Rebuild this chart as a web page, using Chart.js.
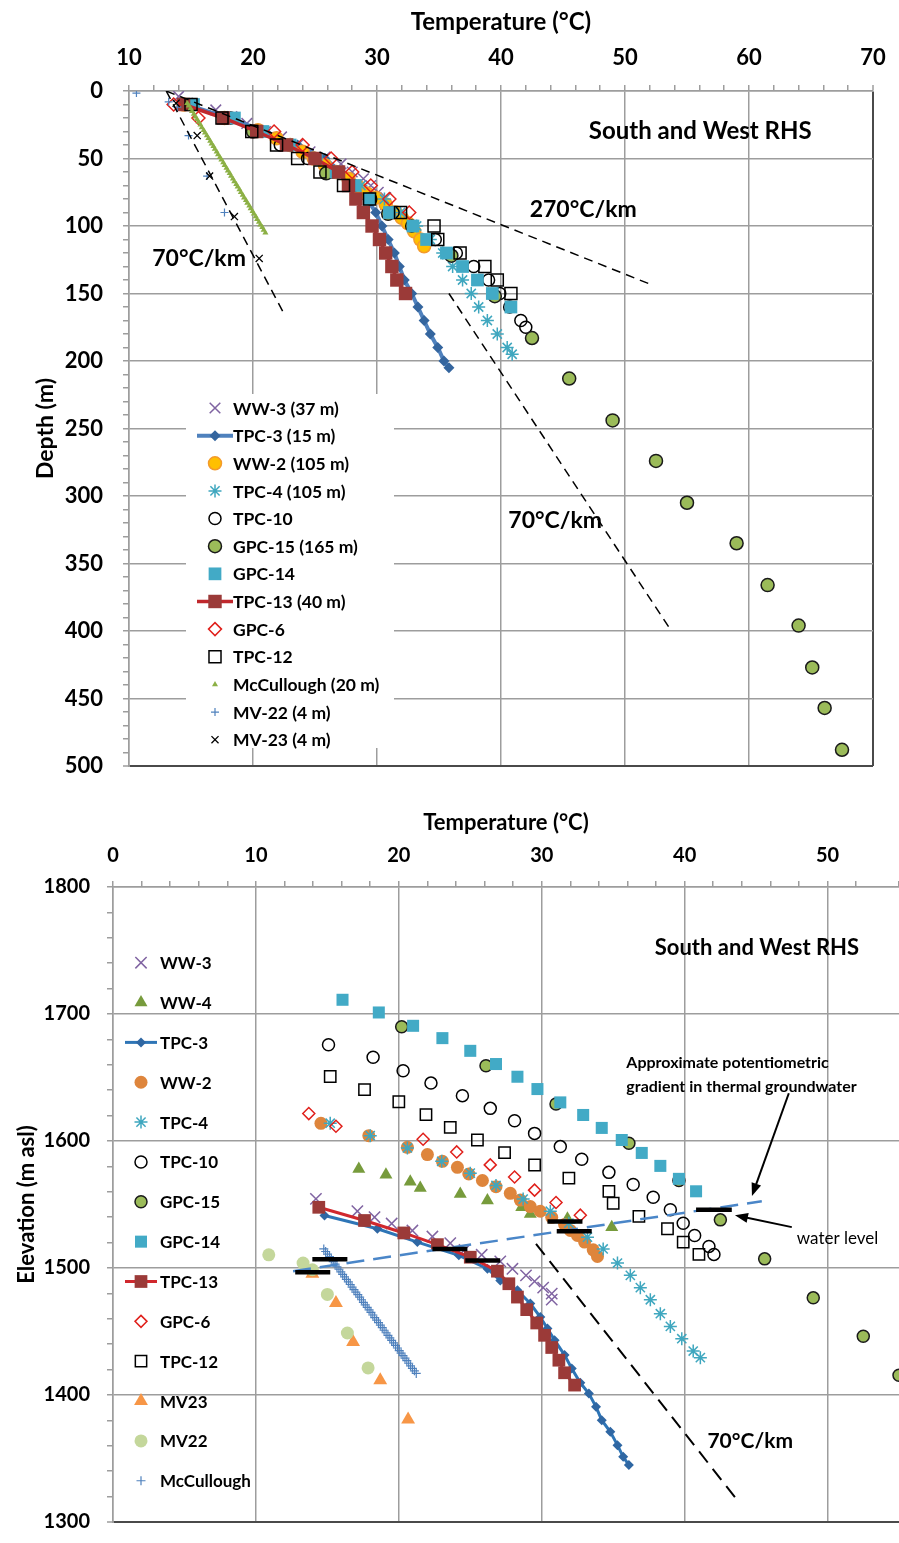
<!DOCTYPE html>
<html lang="en">
<head>
<meta charset="UTF-8">
<title>South and West RHS temperature profiles</title>
<script src="https://cdn.jsdelivr.net/npm/chart.js"></script>
<style>
  body { margin: 0; background: #fff; }
  #wrap { position: relative; width: 899px; height: 1543px; }
  canvas { position: absolute; left: 0; }
  #depthChart { top: 0; }
  #elevChart { top: 780px; }
</style>
</head>
<body>
<div id="wrap">
  <canvas id="depthChart" width="899" height="780"></canvas>
  <canvas id="elevChart" width="899" height="763"></canvas>
</div>
<script>
const FONT = 'Lato, "Open Sans", sans-serif';
const GRID = '#9d9d9d';
const EDGE = '#4a4a4a';

// ---------- upper panel: temperature (C) against depth (m) ----------
const ww3Temp = [14.0, 17.0, 18.3, 19.5, 21.0, 22.3, 23.6, 24.6, 25.8, 27.1, 28.0, 28.9, 29.5, 30.1, 30.7, 30.7];
const ww3Depth = [4, 14, 19, 24, 30, 34, 40, 45, 49, 54, 60, 65, 70, 75, 79, 84];
const tpc3Temp = [14.6, 18.0, 21.0, 23.6, 25.8, 27.1, 28.3, 29.2, 29.9, 30.4, 30.9, 31.4, 31.8, 32.2, 32.8, 33.3, 33.8, 34.3, 34.9, 35.4, 35.8];
const tpc3Depth = [10, 20, 30, 40, 50, 60, 70, 80, 90, 100, 110, 120, 130, 140, 150, 160, 170, 180, 190, 200, 205];
const ww2Temp = [14.4, 17.7, 20.4, 21.9, 23.0, 24.0, 24.9, 25.8, 26.7, 27.7, 28.5, 29.2, 29.9, 30.7, 31.5, 32.0, 32.5, 33.0, 33.5, 33.8];
const ww2Depth = [10, 20, 29, 35, 40, 45, 50, 55, 60, 65, 71, 76, 79, 84, 90, 94, 98, 104, 110, 115];
const tpc4Temp = [15.2, 18.0, 20.6, 23.0, 25.0, 26.8, 28.7, 30.6, 31.9, 33.2, 34.3, 35.3, 36.1, 36.9, 37.6, 38.2, 38.9, 39.7, 40.5, 40.9];
const tpc4Depth = [10, 20, 30, 40, 50, 60, 70, 80, 90, 100, 110, 120, 130, 140, 150, 160, 170, 180, 190, 195];
const tpc10Temp = [15.1, 18.2, 20.3, 22.2, 24.4, 26.4, 28.1, 29.5, 31.3, 32.8, 34.7, 36.4, 37.8, 39.0, 39.9, 40.7, 41.6, 42.0];
const tpc10Depth = [10, 20, 30, 40, 50, 60, 70, 80, 90, 100, 110, 120, 130, 140, 150, 160, 170, 175];
const gpc15Temp = [20.0, 25.9, 30.9, 36.0, 39.5, 42.5, 45.5, 49.0, 52.5, 55.0, 59.0, 61.5, 64.0, 65.1, 66.1, 67.5];
const gpc15Depth = [30, 61, 91, 122, 152, 183, 213, 244, 274, 305, 335, 366, 396, 427, 457, 488];
const gpc14Temp = [15.2, 18.5, 20.8, 23.0, 25.1, 26.7, 28.2, 29.4, 31.0, 32.9, 34.0, 35.6, 36.9, 38.1, 39.3, 40.8];
const gpc14Depth = [10, 20, 30, 40, 50, 60, 70, 80, 90, 100, 110, 120, 130, 140, 150, 160];
const tpc13Temp = [14.4, 17.6, 20.3, 22.7, 25.0, 26.9, 27.7, 28.3, 28.9, 29.6, 30.2, 30.7, 31.2, 31.6, 32.3];
const tpc13Depth = [10, 20, 30, 40, 50, 60, 70, 80, 90, 100, 110, 120, 130, 140, 150];
const gpc6Temp = [13.6, 15.6, 21.7, 24.0, 26.3, 28.0, 29.5, 31.0, 32.6];
const gpc6Depth = [10, 20, 30, 40, 50, 60, 70, 80, 90];
const tpc12Temp = [15.0, 17.5, 19.9, 21.9, 23.6, 25.4, 27.3, 29.4, 31.9, 34.6, 34.9, 36.7, 38.7, 39.7, 40.8];
const tpc12Depth = [10, 20, 30, 40, 50, 60, 70, 80, 90, 100, 110, 120, 130, 140, 150];
const mccTemp = [14.70, 14.82, 14.97, 15.08, 15.23, 15.35, 15.49, 15.61, 15.76, 15.87, 16.02, 16.13, 16.28, 16.40, 16.55, 16.66, 16.81,
  16.92, 17.07, 17.18, 17.33, 17.45, 17.60, 17.71, 17.86, 17.97, 18.12, 18.23, 18.38, 18.49, 18.65, 18.76, 18.91, 19.02, 19.17,
  19.28, 19.43, 19.54, 19.70, 19.81, 19.96, 20.07, 20.22, 20.33, 20.48, 20.59, 20.75, 20.86, 21.00];
const mccDepth = [9, 11, 13, 15, 17, 19, 21, 23, 25, 27, 29, 31, 33, 35, 37, 39, 41, 43, 45, 47, 49, 51, 53, 55, 57, 59, 61, 63, 65,
  67, 69, 71, 73, 75, 77, 79, 81, 83, 85, 87, 89, 91, 93, 95, 97, 99, 101, 103, 105];
const mv22Temp = [10.6, 13.2, 13.9, 14.8, 16.3, 17.7];
const mv22Depth = [1.5, 8, 12, 33, 63, 90];
const mv23Temp = [13.8, 15.5, 16.5, 18.5, 20.5];
const mv23Depth = [9, 33, 63, 93, 124];
// gradient guide lines
const g270Temp = [13, 52], g270Depth = [0, 143];
const g70aTemp = [13, 22.5], g70aDepth = [0, 165];
const g70bTemp = [35.8, 53.6], g70bDepth = [150, 398];

// ---------- lower panel: temperature (C) against elevation (m asl) ----------
const ww3TempB = [14.2, 17.1, 18.3, 19.5, 20.95, 22.35, 23.6, 24.6, 25.8, 27.1, 27.95, 28.9, 29.5, 30.1, 30.7, 30.7];
const ww3Elev = [1554.4, 1544.7, 1540, 1535, 1529.5, 1524.8, 1519.5, 1514.3, 1510.4, 1505.2, 1499.4, 1494.2, 1489.5, 1484.5, 1479.8, 1475.1];
const ww4TempB = [17.2, 19.1, 20.8, 21.5, 24.3, 26.2, 28.6, 29.2, 31.8, 34.9];
const ww4Elev = [1578, 1573.5, 1568, 1563, 1558.3, 1553.1, 1547.8, 1542.6, 1538.7, 1532.1];
const tpc3TempB = [14.8, 18.5, 21.3, 24.2, 26.2, 27.1, 28.3, 29.2, 29.9, 30.4, 30.9, 31.6, 32.1, 32.7, 33.3, 33.8, 34.2, 34.8, 35.3, 35.7, 36.1];
const tpc3Elev = [1541.3, 1530.9, 1520.4, 1510, 1499.4, 1490.2, 1482.4, 1472, 1461.4, 1452.4, 1443.2, 1431.4, 1420.9, 1409.6, 1401.2,
  1390.7, 1380.2, 1371, 1360.5, 1351.3, 1344.8];
const ww2TempB = [14.55, 17.9, 20.6, 22.0, 23.05, 24.1, 24.9, 25.85, 26.8, 27.8, 28.5, 29.2, 29.9, 30.7, 31.6, 32.0, 32.5, 33.0, 33.6, 33.9];
const ww2Elev = [1613.9, 1604.2, 1595, 1589.3, 1584, 1579.3, 1574, 1568.9, 1564, 1558.8, 1553.5, 1548.4, 1544.7, 1539.9, 1534.2,
  1529.6, 1525.6, 1520.4, 1514.3, 1509.1];
const tpc4TempB = [15.2, 18.0, 20.6, 23.0, 25.0, 26.8, 28.7, 30.6, 31.9, 33.2, 34.3, 35.3, 36.2, 36.9, 37.6, 38.3, 39.0, 39.8, 40.6, 41.1];
const tpc4Elev = [1614, 1604.2, 1594.5, 1584, 1574.7, 1565, 1554.3, 1544.7, 1535.3, 1524.3, 1515, 1503.9, 1494.2, 1484.5, 1475,
  1464, 1454, 1444.3, 1434.6, 1429.4];
const tpc10TempB = [15.08, 18.2, 20.3, 22.25, 24.45, 26.4, 28.1, 29.5, 31.3, 32.8, 34.7, 36.4, 37.8, 39.0, 39.9, 40.7, 41.7, 42.05];
const tpc10Elev = [1675.8, 1665.9, 1655.3, 1645.6, 1635.7, 1625.7, 1616, 1606, 1595.6, 1585.6, 1575.3, 1565.7, 1555.7, 1545.8,
  1535.3, 1525.6, 1517, 1510.7];
const gpc15TempB = [20.2, 26.1, 31.0, 36.1, 39.6, 42.5, 45.6, 49.0, 52.5, 55.0];
const gpc15Elev = [1690, 1659.3, 1629.2, 1598.2, 1568.9, 1537.9, 1507.2, 1476.5, 1446.2, 1415.6];
const gpc14TempB = [16.06, 18.6, 21.0, 23.05, 25.0, 26.8, 28.3, 29.7, 31.3, 32.9, 34.2, 35.6, 37.0, 38.3, 39.6, 40.8];
const gpc14Elev = [1711.2, 1701.2, 1690.7, 1681, 1671, 1660.6, 1650.6, 1640.9, 1630.4, 1620.5, 1610.3, 1600.8, 1590.6, 1580.4,
  1570.2, 1560.4];
const tpc13TempB = [14.4, 17.6, 20.35, 22.7, 25.0, 26.9, 27.7, 28.3, 28.95, 29.65, 30.2, 30.7, 31.2, 31.6, 32.3];
const tpc13Elev = [1547.8, 1537.4, 1527.6, 1518.4, 1508.5, 1497.5, 1487.6, 1477.1, 1467.2, 1456.7, 1447, 1437.4, 1427.4, 1417.5, 1407.8];
const gpc6TempB = [13.7, 15.6, 21.7, 24.05, 26.4, 28.1, 29.5, 31.0, 32.7];
const gpc6Elev = [1621.6, 1611.6, 1601.4, 1591.4, 1581.2, 1571.7, 1561.3, 1551.6, 1541.6];
const tpc12TempB = [15.2, 17.6, 20.0, 21.9, 23.6, 25.5, 27.4, 29.5, 31.9, 34.7, 35.0, 36.8, 38.8, 39.9, 41.0];
const tpc12Elev = [1650.8, 1640.4, 1630.9, 1620.7, 1610.8, 1600.8, 1590.9, 1581.1, 1570.7, 1560.4, 1551, 1540.6, 1530.9, 1520.4, 1510.7];
const mv23TempB = [13.95, 15.6, 16.8, 18.7, 20.65];
const mv23Elev = [1495.5, 1472.4, 1441.8, 1411.6, 1380.7];
const mv22TempB = [10.9, 13.3, 13.95, 15.0, 16.4, 17.85];
const mv22Elev = [1510.4, 1503.9, 1498.6, 1479.2, 1448.8, 1421.3];
const mccTempB = [14.75, 14.88, 15.01, 15.15, 15.28, 15.41, 15.54, 15.67, 15.81, 15.94, 16.07, 16.20, 16.33, 16.47, 16.60, 16.73,
  16.86, 16.99, 17.13, 17.26, 17.39, 17.52, 17.65, 17.79, 17.92, 18.05, 18.18, 18.31, 18.45, 18.58, 18.71, 18.84, 18.97, 19.11,
  19.24, 19.37, 19.50, 19.63, 19.77, 19.90, 20.03, 20.16, 20.29, 20.43, 20.56, 20.69, 20.82, 20.95, 21.09, 21.22];
const mccElev = [1515, 1513, 1511, 1509, 1507, 1505, 1503, 1501, 1499, 1497, 1495, 1493, 1491, 1489, 1487, 1485, 1483, 1481, 1479,
  1477, 1475, 1473, 1471, 1469, 1467, 1465, 1463, 1461, 1459, 1457, 1455, 1453, 1451, 1449, 1447, 1445, 1443, 1441, 1439, 1437,
  1435, 1433, 1431, 1429, 1427, 1425, 1423, 1421, 1419, 1417];
// potentiometric gradient, 70 C/km guide, water levels
const potTemp = [12.6, 45.4], potElev = [1497.5, 1552.6];
const g70Temp = [29.6, 43.7], g70Elev = [1519, 1317];
const wlFrom = [12.75, 13.95, 22.35, 24.65, 30.4, 31.05, 40.8];
const wlTo = [15.2, 16.4, 24.8, 27.1, 32.85, 33.5, 43.3];
const wlElev = [1496.7, 1506.9, 1515, 1505.9, 1536.6, 1529, 1545.8];

function pts(xs, ys) {
  return xs.map((x, i) => ({ x: x, y: ys[i] }));
}

function markers(label, xs, ys, look) {
  return Object.assign({
    label: label,
    data: pts(xs, ys),
    showLine: false,
    pointStyle: 'circle',
    pointRadius: 6,
    pointBorderWidth: 0,
    pointBackgroundColor: 'rgba(0,0,0,0)',
    pointBorderColor: '#000',
    borderColor: '#000',
    borderWidth: 0
  }, look);
}

function guide(xs, ys, color, width, dash) {
  return {
    label: '',
    data: pts(xs, ys),
    showLine: true,
    pointRadius: 0,
    borderColor: color,
    borderWidth: width,
    borderDash: dash || []
  };
}

// later series sit on top, like the spreadsheet
function stack(sets) {
  sets.forEach((d, i) => { d.order = sets.length - i; });
  return sets;
}

function insideLegend(cfg) {
  return {
    id: 'insideLegend',
    afterDatasetsDraw(chart) {
      const ctx = chart.ctx;
      ctx.save();
      if (cfg.box) {
        ctx.fillStyle = '#fff';
        ctx.fillRect(cfg.box[0], cfg.box[1], cfg.box[2], cfg.box[3]);
      }
      ctx.font = 'bold ' + cfg.size + 'px ' + FONT;
      ctx.textBaseline = 'middle';
      ctx.textAlign = 'left';
      for (let i = 0; i < cfg.count; i++) {
        const ds = chart.data.datasets[i];
        const y = cfg.y + i * cfg.gap;
        ctx.setLineDash([]);
        if (ds.showLine) {
          ctx.strokeStyle = ds.borderColor;
          ctx.lineWidth = ds.borderWidth;
          ctx.beginPath();
          ctx.moveTo(cfg.x - cfg.half, y);
          ctx.lineTo(cfg.x + cfg.half, y);
          ctx.stroke();
        }
        ctx.fillStyle = ds.pointBackgroundColor;
        ctx.strokeStyle = ds.pointBorderColor;
        ctx.lineWidth = ds.pointBorderWidth;
        Chart.helpers.drawPoint(ctx, {
          pointStyle: ds.pointStyle,
          radius: ds.pointRadius,
          borderWidth: ds.pointBorderWidth,
          rotation: 0
        }, cfg.x, y);
        ctx.fillStyle = '#000';
        ctx.fillText(ds.label, cfg.textX, y + 1);
      }
      ctx.restore();
    }
  };
}

function notes(cfg) {
  return {
    id: 'notes',
    afterDatasetsDraw(chart) {
      const ctx = chart.ctx;
      const sx = chart.scales.x, sy = chart.scales.y;
      ctx.save();
      ctx.fillStyle = '#000';
      ctx.textBaseline = 'middle';
      cfg.texts.forEach(t => {
        ctx.font = t.font;
        ctx.textAlign = t.align || 'center';
        ctx.fillText(t.text, sx.getPixelForValue(t.x), sy.getPixelForValue(t.y));
      });
      (cfg.arrows || []).forEach(a => {
        const x1 = sx.getPixelForValue(a.x1), y1 = sy.getPixelForValue(a.y1);
        const x2 = sx.getPixelForValue(a.x2), y2 = sy.getPixelForValue(a.y2);
        const ang = Math.atan2(y2 - y1, x2 - x1);
        ctx.strokeStyle = '#000';
        ctx.lineWidth = 2;
        ctx.beginPath();
        ctx.moveTo(x1, y1);
        ctx.lineTo(x2 - 10 * Math.cos(ang), y2 - 10 * Math.sin(ang));
        ctx.stroke();
        ctx.beginPath();
        ctx.moveTo(x2, y2);
        ctx.lineTo(x2 - 13 * Math.cos(ang) + 5 * Math.sin(ang), y2 - 13 * Math.sin(ang) - 5 * Math.cos(ang));
        ctx.lineTo(x2 - 13 * Math.cos(ang) - 5 * Math.sin(ang), y2 - 13 * Math.sin(ang) + 5 * Math.cos(ang));
        ctx.closePath();
        ctx.fill();
      });
      ctx.restore();
    }
  };
}

function axis(o) {
  const major = o.major;
  return {
    type: 'linear',
    position: o.position,
    reverse: !!o.reverse,
    min: o.min,
    max: o.max,
    afterFit: s => {
      if (o.position === 'top') s.height = o.size; else s.width = o.size;
      // keep the plot area where the layout puts it
      s.paddingLeft = s.paddingRight = s.paddingTop = s.paddingBottom = 0;
    },
    ticks: {
      stepSize: o.step,
      autoSkip: false,
      maxRotation: 0,
      padding: o.labelPad,
      color: '#000',
      font: { family: FONT, size: o.font, weight: 'bold' },
      callback: v => (Math.round(v) % major === 0 ? v : '')
    },
    grid: {
      color: c => {
        const v = c.tick ? c.tick.value : NaN;
        if (v === o.edge) return EDGE;
        return Math.round(v) % major === 0 ? GRID : 'rgba(0,0,0,0)';
      },
      lineWidth: c => (c.tick && c.tick.value === o.edge ? 2 : 1.5),
      tickColor: GRID,
      tickWidth: 1.5,
      tickLength: 6
    },
    border: { display: true, color: GRID, width: 1.5 },
    title: {
      display: true,
      text: o.title,
      color: '#000',
      font: { family: FONT, size: o.titleFont, weight: 'bold' },
      padding: { top: o.titlePad, bottom: 0 }
    }
  };
}

// ---------- upper chart ----------
const depthSets = stack([
  markers('WW-3 (37 m)', ww3Temp, ww3Depth, { pointStyle: 'crossRot', pointRadius: 7.5, pointBorderWidth: 1.5, pointBorderColor: '#7f63a1' }),
  markers('TPC-3 (15 m)', tpc3Temp, tpc3Depth, { showLine: true, borderColor: '#4f81bd', borderWidth: 4, pointStyle: 'rectRot', pointRadius: 5.5, pointBackgroundColor: '#34659e', pointBorderColor: '#34659e' }),
  markers('WW-2 (105 m)', ww2Temp, ww2Depth, { pointRadius: 6.5, pointBackgroundColor: '#ffc000', pointBorderColor: '#f39a2c', pointBorderWidth: 1.5 }),
  markers('TPC-4 (105 m)', tpc4Temp, tpc4Depth, { pointStyle: 'star', pointRadius: 6.5, pointBorderWidth: 1.5, pointBorderColor: '#3fa7bf' }),
  markers('TPC-10', tpc10Temp, tpc10Depth, { pointRadius: 6, pointBorderWidth: 1.5, pointBorderColor: '#000' }),
  markers('GPC-15 (165 m)', gpc15Temp, gpc15Depth, { pointRadius: 6.5, pointBackgroundColor: '#9bbb59', pointBorderColor: '#1a1a1a', pointBorderWidth: 1.5 }),
  markers('GPC-14', gpc14Temp, gpc14Depth, { pointStyle: 'rect', pointRadius: 9, pointBackgroundColor: '#42aac6', pointBorderColor: '#42aac6' }),
  markers('TPC-13 (40 m)', tpc13Temp, tpc13Depth, { showLine: true, borderColor: '#c0282d', borderWidth: 3.5, pointStyle: 'rect', pointRadius: 9.5, pointBackgroundColor: '#9b3a38', pointBorderColor: '#9b3a38' }),
  markers('GPC-6', gpc6Temp, gpc6Depth, { pointStyle: 'rectRot', pointRadius: 6.5, pointBorderWidth: 1.5, pointBorderColor: '#e0201b' }),
  markers('TPC-12', tpc12Temp, tpc12Depth, { pointStyle: 'rect', pointRadius: 8.5, pointBorderWidth: 1.5, pointBorderColor: '#000' }),
  markers('McCullough (20 m)', mccTemp, mccDepth, { pointStyle: 'triangle', pointRadius: 3.5, pointBackgroundColor: '#8cb045', pointBorderColor: '#8cb045' }),
  markers('MV-22 (4 m)', mv22Temp, mv22Depth, { pointStyle: 'cross', pointRadius: 4, pointBorderWidth: 1.2, pointBorderColor: '#4f81bd' }),
  markers('MV-23 (4 m)', mv23Temp, mv23Depth, { pointStyle: 'crossRot', pointRadius: 5, pointBorderWidth: 1.3, pointBorderColor: '#000' }),
  guide(g270Temp, g270Depth, '#000', 1.5, [9, 6]),
  guide(g70aTemp, g70aDepth, '#000', 1.5, [9, 6]),
  guide(g70bTemp, g70bDepth, '#000', 1.5, [9, 6])
]);

new Chart(document.getElementById('depthChart'), {
  type: 'scatter',
  data: { datasets: depthSets },
  options: {
    responsive: false,
    animation: false,
    events: [],
    layout: { autoPadding: false, padding: { left: 0, top: 0, right: 26, bottom: 14 } },
    plugins: { legend: { display: false }, tooltip: { enabled: false } },
    scales: {
      x: axis({ position: 'top', min: 10, max: 70, step: 2, major: 10, edge: 70, size: 91, labelPad: 14, font: 22,
        title: 'Temperature (°C)', titleFont: 24, titlePad: 8 }),
      y: axis({ position: 'left', reverse: true, min: 0, max: 500, step: 10, major: 50, edge: 500, size: 129, labelPad: 20, font: 22,
        title: 'Depth (m)', titleFont: 23, titlePad: 32 })
    }
  },
  plugins: [
    insideLegend({ count: 13, x: 215, half: 18, textX: 233, y: 408, gap: 27.64, size: 17.5, box: [186, 394, 208, 354] }),
    notes({
      texts: [
        { text: 'South and West RHS', x: 56.07, y: 29.6, font: 'bold 24px ' + FONT },
        { text: '270°C/km', x: 46.63, y: 88.2, font: 'bold 23px ' + FONT },
        { text: '70°C/km', x: 15.65, y: 124.5, font: 'bold 23px ' + FONT },
        { text: '70°C/km', x: 44.37, y: 318, font: 'bold 23px ' + FONT }
      ]
    })
  ]
});

// ---------- lower chart ----------
const elevSets = stack([
  markers('WW-3', ww3TempB, ww3Elev, { pointStyle: 'crossRot', pointRadius: 8, pointBorderWidth: 1.5, pointBorderColor: '#8064a2' }),
  markers('WW-4', ww4TempB, ww4Elev, { pointStyle: 'triangle', pointRadius: 7.5, pointBackgroundColor: '#779b3c', pointBorderColor: '#779b3c' }),
  markers('TPC-3', tpc3TempB, tpc3Elev, { showLine: true, borderColor: '#2e75b6', borderWidth: 3, pointStyle: 'rectRot', pointRadius: 5, pointBackgroundColor: '#2f67a3', pointBorderColor: '#2f67a3' }),
  markers('WW-2', ww2TempB, ww2Elev, { pointRadius: 6.5, pointBackgroundColor: '#de853c', pointBorderColor: '#de853c' }),
  markers('TPC-4', tpc4TempB, tpc4Elev, { pointStyle: 'star', pointRadius: 6.5, pointBorderWidth: 1.5, pointBorderColor: '#3fa7bf' }),
  markers('TPC-10', tpc10TempB, tpc10Elev, { pointRadius: 6, pointBorderWidth: 1.5, pointBorderColor: '#000' }),
  markers('GPC-15', gpc15TempB, gpc15Elev, { pointRadius: 6, pointBackgroundColor: '#9bbb59', pointBorderColor: '#1a1a1a', pointBorderWidth: 1.5 }),
  markers('GPC-14', gpc14TempB, gpc14Elev, { pointStyle: 'rect', pointRadius: 8.5, pointBackgroundColor: '#42aac6', pointBorderColor: '#42aac6' }),
  markers('TPC-13', tpc13TempB, tpc13Elev, { showLine: true, borderColor: '#d0282d', borderWidth: 3, pointStyle: 'rect', pointRadius: 9, pointBackgroundColor: '#9b3a38', pointBorderColor: '#9b3a38' }),
  markers('GPC-6', gpc6TempB, gpc6Elev, { pointStyle: 'rectRot', pointRadius: 6, pointBorderWidth: 1.5, pointBorderColor: '#e0201b' }),
  markers('TPC-12', tpc12TempB, tpc12Elev, { pointStyle: 'rect', pointRadius: 8, pointBorderWidth: 1.5, pointBorderColor: '#000' }),
  markers('MV23', mv23TempB, mv23Elev, { pointStyle: 'triangle', pointRadius: 8, pointBackgroundColor: '#f79646', pointBorderColor: '#f79646' }),
  markers('MV22', mv22TempB, mv22Elev, { pointRadius: 6.5, pointBackgroundColor: '#c4d79b', pointBorderColor: '#c4d79b' }),
  markers('McCullough', mccTempB, mccElev, { pointStyle: 'cross', pointRadius: 4.5, pointBorderWidth: 1.2, pointBorderColor: '#4f81bd' }),
  guide(potTemp, potElev, '#4a86c8', 2.5, [18, 9]),
  guide(g70Temp, g70Elev, '#000', 2, [14, 8])
].concat(wlElev.map((e, i) => guide([wlFrom[i], wlTo[i]], [e, e], '#000', 4.5))));

new Chart(document.getElementById('elevChart'), {
  type: 'scatter',
  data: { datasets: elevSets },
  options: {
    responsive: false,
    animation: false,
    events: [],
    layout: { autoPadding: false, padding: { left: 0, top: 0, right: 0, bottom: 21 } },
    plugins: { legend: { display: false }, tooltip: { enabled: false } },
    scales: {
      x: axis({ position: 'top', min: 0, max: 55, step: 2, major: 10, edge: null, size: 107, labelPad: 13, font: 20,
        title: 'Temperature (°C)', titleFont: 22, titlePad: 30 }),
      y: axis({ position: 'left', min: 1300, max: 1800, step: 20, major: 100, edge: 1300, size: 113, labelPad: 17, font: 20,
        title: 'Elevation (m asl)', titleFont: 22, titlePad: 14 })
    }
  },
  plugins: [
    insideLegend({ count: 14, x: 141, half: 16, textX: 160, y: 182.7, gap: 39.85, size: 17 }),
    notes({
      texts: [
        { text: 'South and West RHS', x: 45.06, y: 1751.8, font: 'bold 22px ' + FONT },
        { text: '70°C/km', x: 44.59, y: 1363.7, font: 'bold 21px ' + FONT },
        { text: 'Approximate potentiometric', x: 35.92, y: 1661.2, font: 'bold 16px ' + FONT, align: 'left' },
        { text: 'gradient in thermal groundwater', x: 35.92, y: 1642.4, font: 'bold 16px ' + FONT, align: 'left' },
        { text: 'water level', x: 47.85, y: 1523.5, font: '17px ' + FONT, align: 'left' }
      ],
      arrows: [
        { x1: 47.29, y1: 1637.6, x2: 44.71, y2: 1556.6 },
        { x1: 47.5, y1: 1532.2, x2: 43.52, y2: 1541.6 }
      ]
    })
  ]
});
</script>
</body>
</html>
